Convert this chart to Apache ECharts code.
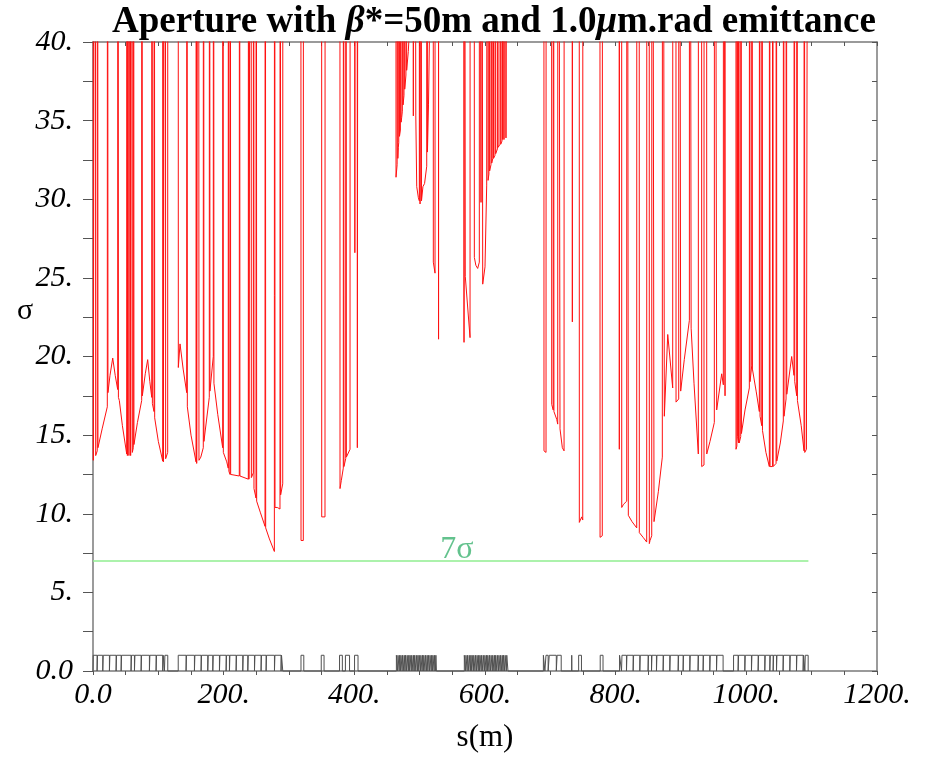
<!DOCTYPE html>
<html>
<head>
<meta charset="utf-8">
<script src="https://cdn.jsdelivr.net/npm/echarts@6/dist/echarts.min.js"></script>
<style>html,body{margin:0;padding:0;background:#fff}#c{width:926px;height:758px}</style>
</head>
<body>
<div id="c"></div>
<script>
// ---- Data (s in metres, aperture in sigma; 99 = off-scale, drift) ----
var apertureArc1 = [
[0,99],[0.5,13.4],[1.5,13.3],[3,13.5],[3.3,99],[3.8,99],[4.1,13.7],[6.5,14.0],[6.8,99],[7.3,99],[7.6,14.2],[14,15.4],[21.9,16.8],[22.2,99],[22.6,99],[22.9,17.7],[26,18.8],[30.2,19.9],[34,18.8],[37.8,17.9],[38.1,99],[38.6,99],[38.9,17.4],[40.3,17.2],[45,15.6],[51.6,13.8],[51.9,99],[52.3,99],[52.6,13.7],[54,13.7],[54.3,99],[54.7,99],[55,13.7],[56.6,13.7],[56.9,99],[57.3,99],[57.6,13.7],[59.2,13.8],[59.5,99],[59.9,99],[60.2,13.9],[61.7,14.2],[62,99],[62.4,99],[62.7,14.4],[68,15.8],[74.5,17.2],[74.8,99],[75.2,99],[75.5,17.5],[80,18.9],[83.7,19.8],[87,18.4],[89.9,17.4],[90.2,99],[90.6,99],[90.9,17.0],[93.4,16.5],[93.7,99],[94.1,99],[94.4,16.1],[100,14.6],[106.7,13.35],[107,99],[107.4,99],[107.7,13.3],[110.2,13.4],[110.5,99],[110.9,99],[111.2,13.5],[114.3,13.9],[114.6,99],
[130.3,99],[130.6,19.3],[133.2,20.8],[138,19.2],[143.4,17.7],[143.7,99],[144.1,99],[144.4,16.8],[150,15.0],[157.7,13.3],[158,99],[158.4,99],[158.7,13.2],[161.2,13.3],[161.5,99],[161.9,99],[162.2,13.4],[165,13.6],[168.8,14.2],[169.1,99],[169.5,99],[169.8,14.6],[178,17.4],[178.3,99],[178.7,99],[179,17.8],[184.1,20.0],[184.4,99],[184.8,99],[185.1,18.3],[191,16.3],[198.5,14.2],[198.8,99],[199.2,99],[199.5,13.9],[204.7,13.3],[207,12.9],[207.3,99],[207.7,99],[208,12.7],[209.7,12.5],[210,99],[210.4,99],[210.7,12.5],[223.9,12.4],[224.2,99],[224.6,99],[224.9,12.4],[237.7,12.2],[238,99],[238.4,99],[238.7,12.2],[241.4,12.2],[241.7,99],[242.1,99],[242.4,12.3],[245.4,12.6],[245.7,99],[246.1,99],[246.4,11.6],[249.5,11.0],[249.8,99],[250.2,99],[250.5,10.8],[256,10.1],[263.3,9.2],[263.6,99],[264,99],[264.3,9.1],[270,8.4],[277.6,7.6],[277.9,99],[278.3,99],[278.6,10.4],[282.1,10.4],[286.2,10.3],[286.5,99],[286.9,99],[287.2,11.2],[290.4,11.9],[290.7,99],
[318.1,99],[318.4,8.3],[321.9,8.3],[322.2,99],
[349.8,99],[350.1,9.8],[355.1,9.8],[355.4,99],
[377.8,99],[378.1,11.6],[380,12.1],[383.1,12.9],[383.4,99],[383.8,99],[384.1,13.0],[386.8,13.5],[387.1,99],[387.5,99],[387.8,13.6],[393.4,14.1],[393.7,99],[400.5,99],[400.8,26.6],[401.1,99],[404.3,99],[404.6,14.2],[405.8,14.2],[406.1,99]
];
var apertureIR = [
[463.5,99],[463.8,31.4],[465.5,32.2],[465.8,99],[466.3,99],[466.6,32.6],[467.3,33.3],[468,33.6],[468.3,99],[468.8,99],[469.1,34],[470.5,34.4],[470.8,99],[471.3,99],[471.6,34.9],[472.5,35.2],[473.5,35.6],[473.8,99],[474.3,99],[474.6,36],[476,36.6],[476.3,99],[476.8,99],[477.1,37],[477.6,37.2],[479,37.9],[479.3,99],[479.8,99],[480.1,38.2],[482.6,39.4],[484,40.5],[484.3,99],
[490.0,99],[490.3,35.3],[491,99],[493.8,99],[494.1,35.3],[495.5,30.8],[498,30.1],[499.5,29.9],[499.8,99],[500.3,99],[500.6,29.7],[501.6,29.7],[502,99],[502.5,99],[502.8,29.9],[505,30.8],[507.5,31],[510.8,32.1],[511.1,99],[511.6,99],[511.9,33],[513.5,36],[515,40.5],[515.3,99],
[520.6,99],[520.9,26],[523.5,25.3],[523.8,99],
[528.6,99],[528.9,21.1],[529.2,99],
[567.6,99],[567.9,20.9],[568.2,99],[569.5,99],[569.8,25.1],[577.1,21.2],[577.4,99],
[583.4,99],[583.7,26.3],[586,25.8],[588.8,25.6],[591.3,26],[591.6,99],[593.6,99],[593.9,29.8],[594.2,99],[596.2,99],[596.5,24.6],[600,25.7],[602.6,30.9],[603.6,31],[603.9,99],[604.4,99],[604.7,31.2],[606,31.6],[606.3,99],[606.8,99],[607.1,31.8],[609.2,32.2],[609.5,99],[610,99],[610.3,32.3],[612,32.6],[612.3,99],[612.8,99],[613.1,32.6],[615.3,32.8],[615.6,99],[616.1,99],[616.4,32.9],[619,33.2],[619.3,99],[619.8,99],[620.1,33.3],[623,33.5],[623.3,99],[623.8,99],[624.1,33.5],[626,33.7],[626.3,99],[626.8,99],[627.1,33.8],[628,33.8],[628.3,99],[628.8,99],[629.1,33.8],[631,33.9],[631.3,99],[631.8,99],[632.1,33.9],[634.2,33.9],[634.5,99]
];
var apertureArc2 = [
[690,99],[690.3,14.0],[693.4,13.9],[693.7,99],
[701.8,99],[702.1,16.95],[704.4,16.6],[704.7,99],[705.2,99],[705.5,16.5],[709.8,16.0],[711.3,15.7],[711.6,99],[714.5,99],[714.8,15.4],[718.4,14.2],[721,14.0],[721.3,99],
[733.4,99],[733.7,22.2],[734,99],
[744.1,99],[744.4,9.45],[748,9.8],[749.6,9.6],[749.9,99],
[775.8,99],[776.1,8.5],[779.5,8.6],[780,99],
[805.3,99],[805.6,14.1],[805.9,99],[809,99],[809.3,10.4],[812,10.6],[816.9,10.8],[817.2,99],[819.1,99],[819.4,9.9],[825,9.5],[832.2,9.1],[832.5,99],[835.9,99],[836.2,8.8],[842,8.5],[847.5,8.2],[847.8,99],[851.2,99],[851.5,8.1],[852.6,8.3],[855.2,8.6],[855.5,99],[858.4,99],[858.7,9.5],[865.3,11.4],[871.4,13.6],[871.7,99],[874.2,99],[874.5,16.2],[879.7,21.4],[887.3,18.0],[887.6,99],[892.1,99],[892.4,17.1],[894,17.0],[896.5,17.3],[896.8,99],[899.2,99],[899.5,17.8],[905,19.8],[912.8,22.3],[913.1,99],[915.2,99],[915.5,21.8],[919.9,18.3],[926.5,13.8],[926.8,99],[931.4,99],[931.7,13.0],[933.2,12.95],[935.2,13.1],[935.5,99],[939.1,99],[939.4,13.8],[944.4,14.6],[951,15.8],[951.3,99],[954.3,99],[954.6,16.6],[962.3,18.9],[964.8,18.2],[965.1,99],[967.1,99],[967.4,17.5],[967.7,99],
[984,99],[984.2,14.1],[985.5,14.3],[985.8,99],[986.3,99],[986.6,14.9],[988,14.5],[988.3,99],[988.8,99],[989.1,14.5],[990.3,14.6],[991.4,14.9],[991.7,99],[992.2,99],[992.5,15.1],[998,16.6],[1004.6,18.0],[1004.9,99],[1005.4,99],[1005.7,18.4],[1008.2,19.4],[1008.5,99],[1009,99],[1009.3,19.2],[1015,17.8],[1019.9,16.5],[1020.2,99],[1020.7,99],[1021,16.2],[1023.6,15.6],[1023.9,99],[1024.4,99],[1024.7,15.3],[1030,13.9],[1035.2,13.0],[1035.5,99],[1036,99],[1036.3,13.0],[1040,13.0],[1040.3,99],[1040.8,99],[1041.1,13.0],[1045.5,13.2],[1045.8,99],[1046.3,99],[1046.6,13.35],[1052,14.5],[1056.6,15.9],[1056.9,99],[1057.4,99],[1057.7,16.2],[1060.8,17.3],[1061.1,99],[1061.6,99],[1061.9,17.6],[1069.4,20.0],[1073,18.8],[1073.3,99],[1073.8,99],[1074.1,18.4],[1077.1,17.5],[1077.4,99],[1077.9,99],[1078.2,17.2],[1084,15.6],[1088.3,14.0],[1088.6,99],[1089.1,99],[1089.4,13.9],[1092,14.1],[1094.9,14.0],[1095.2,99]
];
// magnet elements (start, end) in metres
var magnetBoxes = [
[0,6.6],[6.6,15.3],[15.3,25.5],[25.5,35.7],[35.7,43.4],[43.4,58.6],[58.6,63.8],[63.8,74],[74,86.7],[86.7,96.9],[96.9,107.1],[107.1,109.7],[109.7,114.8],
[130.1,142.8],[142.8,155.6],[155.6,165.8],[165.8,176],[176,183.7],[183.7,193.9],[193.9,204.1],[204.1,209.2],[209.2,219.4],[219.4,229.6],[229.6,237.3],[237.3,247.5],[247.5,257.6],[257.6,265.3],[265.3,278.1],[278.1,288.2],[288.2,290.8],
[318,323],[349,354],[377,382],[386,393],[400,406],
[464,466.5],[466.5,469],[469,471],[471,473.5],[473.5,476],[476,478],[478,480.5],[480.5,483],[483,485],[485,487.5],[487.5,490],[490,492],[492,494.5],[494.5,497],[497,499],[499,501.5],[501.5,504],[504,506],[506,508.5],[508.5,511],[511,513],[513,515.5],[515.5,518],[518,520],[520,522.5],[522.5,524.5],[524.5,526],
[568,570.5],[570.5,573],[573,575.5],[575.5,578],[578,580],[580,582.5],[582.5,585],[585,587.5],[587.5,590],[590,592],[592,594.5],[594.5,597],[597,599.5],[599.5,602],[602,604],[604,606.5],[606.5,609],[609,611.5],[611.5,614],[614,616],[616,618.5],[618.5,621],[621,623.5],[623.5,626],[626,628],[628,630.5],[630.5,633],[633,635.5],
[689,692],[693,697],[698,709.5],[710,717],[732.4,733.2],[743,748],[776,781],
[805.6,809.3],[809.3,816.9],[816.9,827.1],[827.1,837.3],[837.3,850],[850,855.2],[855.2,862.8],[862.8,873],[873,883.2],[883.2,896],[896,903.6],[903.6,913.8],[913.8,926.5],[926.5,934.2],[934.2,944.4],[944.4,954.7],[954.7,964.8],
[980.1,987.8],[987.8,998],[998,1008.2],[1008.2,1018.4],[1018.4,1028.6],[1028.6,1036.3],[1036.3,1041.4],[1041.4,1046.5],[1046.5,1056.6],[1056.6,1066.9],[1066.9,1077.1],[1077.1,1087.3],[1087.3,1089.9],[1089.9,1095]
];
var magnetHeight = 1.0;
var sevenSigmaLine = [[0,7],[1095,7]];
var sevenSigmaLabelPos = [[557,7.75]];
var xTicks = [0,200,400,600,800,1000,1200];
var yTicks = [0,5,10,15,20,25,30,35,40];

// ---- build ----
var apertureData = apertureArc1.concat(apertureIR, apertureArc2);
var latticeData = [[0,0]];
magnetBoxes.forEach(function(b){
  var a = b[0] + 0.35, e = b[1] - 0.35;
  latticeData.push([a,0],[a,magnetHeight],[e,magnetHeight],[e,0]);
});
function fmt(v){ return v === 0 ? '0.0' : v + '.'; }
var serif = "'Liberation Serif','Times New Roman',serif";
var axisGray = '#7a7a7a';

var chart = echarts.init(document.getElementById('c'), null, {renderer:'canvas'});
chart.setOption({
  animation: false,
  backgroundColor: '#fff',
  title: {
    text: '{b|Aperture with }{i|β}{b|*=50m and 1.0}{i|μ}{b|m.rad emittance}',
    left: 489, top: -1, textAlign: 'center',
    textStyle: {
      rich: {
        b: {fontFamily: serif, fontWeight: 'bold', fontSize: 37, color: '#000'},
        i: {fontFamily: serif, fontWeight: 'bold', fontStyle: 'italic', fontSize: 37, color: '#000'}
      }
    }
  },
  graphic: [{
    type: 'text', left: 17, top: 296,
    style: {text: 'σ', font: "30px 'Liberation Serif', serif", fill: '#000'}
  }],
  grid: {left: 93, right: 49, top: 42, bottom: 86, containLabel: false},
  xAxis: [{
    type: 'value', min: xTicks[0], max: xTicks[xTicks.length-1], interval: 200, position: 'bottom',
    axisLine: {show: true, onZero: false, lineStyle: {color: axisGray, width: 1.5}},
    axisTick: {show: true, length: 4, inside: false, lineStyle: {color: '#555'}},
    minorTick: {show: true, splitNumber: 4, length: 4, lineStyle: {color: '#555'}},
    splitLine: {show: false}, minorSplitLine: {show: false},
    axisLabel: {formatter: fmt, fontFamily: serif, fontStyle: 'italic', fontSize: 30, color: '#000', margin: 9},
    name: 's(m)', nameLocation: 'middle', nameGap: 51,
    nameTextStyle: {fontFamily: serif, fontSize: 31, color: '#000'}
  },{
    type: 'value', min: 0, max: 1200, interval: 200, position: 'top',
    axisLine: {show: true, onZero: false, lineStyle: {color: axisGray, width: 1.5}},
    axisTick: {show: true, length: 4, inside: true, lineStyle: {color: '#555'}},
    minorTick: {show: true, splitNumber: 4, length: 4, lineStyle: {color: '#555'}},
    splitLine: {show: false}, axisLabel: {show: false}
  }],
  yAxis: [{
    type: 'value', min: yTicks[0], max: yTicks[yTicks.length-1], interval: 5, position: 'left',
    axisLine: {show: true, onZero: false, lineStyle: {color: axisGray, width: 1.5}},
    axisTick: {show: true, length: 10, inside: false, lineStyle: {color: '#555'}},
    minorTick: {show: true, splitNumber: 2, length: 10, lineStyle: {color: '#555'}},
    splitLine: {show: false}, minorSplitLine: {show: false},
    axisLabel: {formatter: fmt, fontFamily: serif, fontStyle: 'italic', fontSize: 30, color: '#000', margin: 20}
  },{
    type: 'value', min: 0, max: 40, interval: 5, position: 'right',
    axisLine: {show: true, onZero: false, lineStyle: {color: axisGray, width: 1.5}},
    axisTick: {show: true, length: 5, inside: true, lineStyle: {color: '#555'}},
    minorTick: {show: true, splitNumber: 2, length: 5, lineStyle: {color: '#555'}},
    splitLine: {show: false}, axisLabel: {show: false}
  }],
  series: [{
    type: 'line', data: apertureData, showSymbol: false, symbol: 'none', clip: true,
    lineStyle: {color: '#ff1010', width: 1}, silent: true, z: 3
  },{
    type: 'line', data: latticeData, showSymbol: false, symbol: 'none', clip: false,
    lineStyle: {color: '#505050', width: 1}, silent: true, z: 4
  },{
    type: 'line', data: sevenSigmaLine, showSymbol: false, symbol: 'none',
    lineStyle: {color: '#90ee90', width: 1.5}, silent: true, z: 2
  },{
    type: 'scatter', data: sevenSigmaLabelPos, symbolSize: 0, silent: true,
    label: {show: true, position: 'inside', formatter: '7σ', fontFamily: serif, fontSize: 32, color: '#3cb371'}
  }]
});
</script>
</body>
</html>
